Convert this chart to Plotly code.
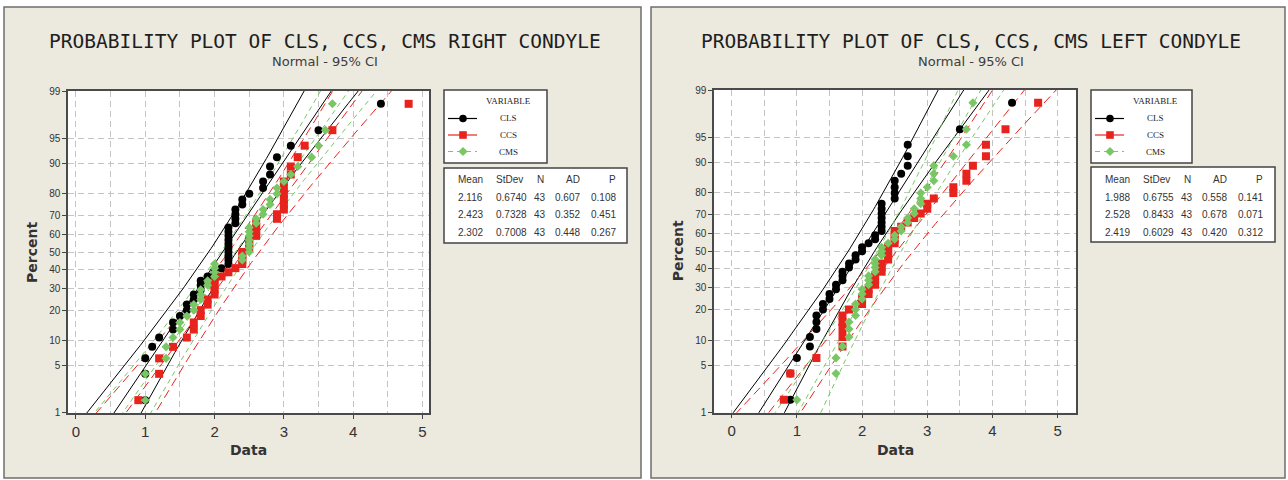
import plotly.graph_objects as go
from statistics import NormalDist

W, H = 1288, 480
STD = NormalDist()

VARIABLES = ["CLS", "CCS", "CMS"]

# ---- Right condyle measurements ----
right_cls = [1.0, 1.0, 1.0, 1.1, 1.2, 1.4, 1.4, 1.5, 1.6, 1.6, 1.7, 1.7, 1.8, 1.8, 1.8,
             1.9, 2.0, 2.1, 2.2, 2.2, 2.2, 2.2, 2.2, 2.2, 2.2, 2.2, 2.2, 2.2, 2.3, 2.3,
             2.3, 2.3, 2.4, 2.4, 2.5, 2.7, 2.7, 2.8, 2.8, 2.9, 3.1, 3.5, 4.4]
right_ccs = [0.9, 1.2, 1.2, 1.4, 1.6, 1.7, 1.7, 1.8, 1.8, 1.9, 1.9, 2.0, 2.0, 2.0, 2.0,
             2.1, 2.2, 2.3, 2.4, 2.4, 2.4, 2.4, 2.5, 2.5, 2.5, 2.6, 2.6, 2.6, 2.6, 2.9,
             2.9, 3.0, 3.0, 3.0, 3.0, 3.0, 3.0, 3.1, 3.1, 3.2, 3.3, 3.7, 4.8]
right_cms = [1.0, 1.0, 1.3, 1.3, 1.4, 1.5, 1.5, 1.6, 1.7, 1.7, 1.8, 1.8, 1.8, 1.9, 1.9,
             2.0, 2.0, 2.0, 2.0, 2.4, 2.4, 2.5, 2.5, 2.5, 2.5, 2.5, 2.5, 2.5, 2.6, 2.6,
             2.7, 2.7, 2.8, 2.8, 2.9, 2.9, 3.0, 3.1, 3.2, 3.4, 3.5, 3.6, 3.7]
right_mean = [2.116, 2.423, 2.302]
right_stdev = [0.6740, 0.7328, 0.7008]
right_n = [43, 43, 43]
right_ad = [0.607, 0.352, 0.448]
right_p = [0.108, 0.451, 0.267]

# ---- Left condyle measurements ----
left_cls = [0.9, 0.9, 1.0, 1.2, 1.2, 1.3, 1.3, 1.3, 1.4, 1.4, 1.5, 1.5, 1.6, 1.6, 1.7,
            1.7, 1.7, 1.8, 1.8, 1.9, 1.9, 2.0, 2.0, 2.1, 2.2, 2.2, 2.3, 2.3, 2.3, 2.3,
            2.3, 2.3, 2.3, 2.5, 2.5, 2.5, 2.5, 2.6, 2.7, 2.7, 2.7, 3.5, 4.3]
left_ccs = [0.8, 0.9, 1.3, 1.7, 1.7, 1.7, 1.7, 1.7, 1.8, 2.0, 2.0, 2.1, 2.1, 2.2, 2.2,
            2.2, 2.3, 2.3, 2.3, 2.4, 2.4, 2.4, 2.4, 2.5, 2.5, 2.5, 2.5, 2.6, 2.7, 2.8,
            2.9, 3.0, 3.0, 3.1, 3.4, 3.4, 3.6, 3.6, 3.7, 3.9, 3.9, 4.2, 4.7]
left_cms = [1.0, 1.6, 1.6, 1.7, 1.8, 1.8, 1.8, 1.9, 1.9, 1.9, 2.0, 2.0, 2.0, 2.1, 2.1,
            2.1, 2.2, 2.2, 2.2, 2.2, 2.3, 2.3, 2.3, 2.4, 2.5, 2.5, 2.6, 2.6, 2.7, 2.7,
            2.8, 2.8, 2.9, 2.9, 2.9, 3.0, 3.1, 3.1, 3.1, 3.4, 3.6, 3.6, 3.7]
left_mean = [1.988, 2.528, 2.419]
left_stdev = [0.6755, 0.8433, 0.6029]
left_n = [43, 43, 43]
left_ad = [0.558, 0.678, 0.420]
left_p = [0.141, 0.071, 0.312]

percent_ticks = [1, 5, 10, 20, 30, 40, 50, 60, 70, 80, 90, 95, 99]
data_ticks = [0, 1, 2, 3, 4, 5]
stat_headers = ["Mean", "StDev", "N", "AD", "P"]

STYLE = {
    "CLS": dict(color="#000000", symbol="circle", size=8, dash="solid", legend_dash="solid"),
    "CCS": dict(color="#E8231E", symbol="square", size=8, dash="9px,5px", legend_dash="solid"),
    "CMS": dict(color="#79C664", symbol="diamond", size=7, dash="5px,4px", legend_dash="5px,4px"),
}

PANEL_BG = "#ECE9DF"
GRID = "#C4C4C4"
TEXT = "#333333"


def fx(px):
    return px / W


def fy(py):
    return 1 - py / H


panels = [
    dict(title="PROBABILITY PLOT OF CLS, CCS, CMS RIGHT CONDYLE",
         series=[right_cls, right_ccs, right_cms],
         mean=right_mean, stdev=right_stdev, n=right_n, ad=right_ad, p=right_p,
         frame=(4, 7, 641, 478), plot=(68, 91, 429, 413), xrange=(-0.115, 5.094),
         title_x=324.5, ylabel_x=32,
         legend_box=(444, 90, 547, 163), stats_box=(444, 168, 627, 243),
         xa="x", ya="y", axkey=""),
    dict(title="PROBABILITY PLOT OF CLS, CCS, CMS LEFT CONDYLE",
         series=[left_cls, left_ccs, left_cms],
         mean=left_mean, stdev=left_stdev, n=left_n, ad=left_ad, p=left_p,
         frame=(651, 7, 1285, 478), plot=(714, 90, 1076, 412.7), xrange=(-0.271, 5.281),
         title_x=971, ylabel_x=678,
         legend_box=(1091, 90, 1192, 163), stats_box=(1091, 167, 1275, 242),
         xa="x2", ya="y2", axkey="2"),
]

fig = go.Figure()
shapes = []
annotations = []

z_lo = STD.inv_cdf(0.01)
z_hi = STD.inv_cdf(0.99)
z_grid = [-2.8 + 0.05 * k for k in range(113)]

for pn in panels:
    x0, y0, x1, y1 = pn["frame"]
    shapes.append(dict(type="rect", xref="paper", yref="paper", layer="below",
                       x0=fx(x0), x1=fx(x1), y0=fy(y1), y1=fy(y0),
                       fillcolor=PANEL_BG, line=dict(color="#6E6E6E", width=1.5)))
    px0, py0, px1, py1 = pn["plot"]
    shapes.append(dict(type="rect", xref="paper", yref="paper", layer="below",
                       x0=fx(px0), x1=fx(px1), y0=fy(py1), y1=fy(py0),
                       fillcolor="white", line=dict(width=0)))

    # fitted lines with 95% confidence bands
    for name, mu, sd, n in zip(VARIABLES, pn["mean"], pn["stdev"], pn["n"]):
        st = STYLE[name]
        fit = [mu + z * sd for z in z_grid]
        half = [1.96 * sd * (1.0 / n + z * z / (2.0 * n)) ** 0.5 for z in z_grid]
        for xs in (fit, [f - h for f, h in zip(fit, half)], [f + h for f, h in zip(fit, half)]):
            fig.add_trace(go.Scatter(
                x=xs, y=z_grid, mode="lines", xaxis=pn["xa"], yaxis=pn["ya"],
                line=dict(color=st["color"], width=1, dash=st["dash"]),
                hoverinfo="skip", showlegend=False))

    # data points at median-rank plotting positions
    for name, values in zip(VARIABLES, pn["series"]):
        st = STYLE[name]
        vals = sorted(values)
        m = len(vals)
        zs = [STD.inv_cdf((i - 0.3) / (m + 0.4)) for i in range(1, m + 1)]
        fig.add_trace(go.Scatter(
            x=vals, y=zs, mode="markers", name=name, xaxis=pn["xa"], yaxis=pn["ya"],
            marker=dict(color=st["color"], symbol=st["symbol"], size=st["size"],
                        line=dict(width=0)),
            showlegend=False))

    # axes
    xdom = [fx(px0), fx(px1)]
    ydom = [fy(py1), fy(py0)]
    fig.update_layout(**{
        "xaxis" + pn["axkey"]: dict(
            domain=xdom, range=list(pn["xrange"]), anchor=pn["ya"], automargin=False,
            tickmode="array", tickvals=data_ticks, ticktext=[str(t) for t in data_ticks],
            ticks="outside", ticklen=4, tickcolor="#444",
            tickfont=dict(family="Liberation Sans, Arial, sans-serif", size=15, color=TEXT),
            showgrid=True, gridcolor=GRID, griddash="6px,4px", gridwidth=1,
            minor=dict(tickmode="linear", tick0=0, dtick=0.5, showgrid=True,
                       gridcolor=GRID, griddash="6px,4px", ticks=""),
            showline=True, mirror=True, linecolor="#4A4A4A", linewidth=1.5,
            zeroline=False, fixedrange=True),
        "yaxis" + pn["axkey"]: dict(
            domain=ydom, range=[z_lo - 1e-4, z_hi + 1e-4], anchor=pn["xa"], automargin=False,
            tickmode="array", tickvals=[STD.inv_cdf(t / 100) for t in percent_ticks],
            ticktext=[str(t) for t in percent_ticks],
            ticks="outside", ticklen=4, tickcolor="#444",
            tickfont=dict(family="Liberation Sans, Arial, sans-serif", size=10, color=TEXT),
            showgrid=True, gridcolor=GRID, griddash="6px,4px", gridwidth=1,
            showline=True, mirror=True, linecolor="#4A4A4A", linewidth=1.5,
            zeroline=False, fixedrange=True),
    })

    # titles
    annotations.append(dict(text=pn["title"], x=fx(pn["title_x"]), y=fy(41), xref="paper",
                            yref="paper", showarrow=False, xanchor="center", yanchor="middle",
                            font=dict(family="DejaVu Sans Mono, monospace", size=19.5,
                                      color="#1E1E1E")))
    annotations.append(dict(text="Normal - 95% CI", x=fx(pn["title_x"]), y=fy(61), xref="paper",
                            yref="paper", showarrow=False, xanchor="center", yanchor="middle",
                            font=dict(family="DejaVu Sans, sans-serif", size=13, color="#3C3C3C")))
    annotations.append(dict(text="<b>Data</b>", x=fx((px0 + px1) / 2), y=fy(450), xref="paper",
                            yref="paper", showarrow=False, xanchor="center", yanchor="middle",
                            font=dict(family="DejaVu Sans, sans-serif", size=14, color=TEXT)))
    annotations.append(dict(text="<b>Percent</b>", x=fx(pn["ylabel_x"]), y=fy((py0 + py1) / 2),
                            xref="paper", yref="paper", showarrow=False, textangle=-90,
                            xanchor="center", yanchor="middle",
                            font=dict(family="DejaVu Sans, sans-serif", size=14, color=TEXT)))

    # legend box
    lx0, ly0, lx1, ly1 = pn["legend_box"]
    shapes.append(dict(type="rect", xref="paper", yref="paper", layer="below",
                       x0=fx(lx0), x1=fx(lx1), y0=fy(ly1), y1=fy(ly0),
                       fillcolor="white", line=dict(color="#444444", width=1.5)))
    annotations.append(dict(text="VARIABLE", x=fx(lx0 + 64), y=fy(101), xref="paper",
                            yref="paper", showarrow=False, xanchor="center", yanchor="middle",
                            font=dict(family="Liberation Serif, Times New Roman, serif",
                                      size=9, color="#222")))
    for k, name in enumerate(VARIABLES):
        st = STYLE[name]
        ey = 118.5 + 16.5 * k
        shapes.append(dict(type="line", xref="paper", yref="paper",
                           x0=fx(lx0 + 4), x1=fx(lx0 + 33), y0=fy(ey), y1=fy(ey),
                           line=dict(color=st["color"], width=1.2, dash=st["legend_dash"])))
        cx = lx0 + 19
        if st["symbol"] == "circle":
            shapes.append(dict(type="circle", xref="paper", yref="paper",
                               x0=fx(cx - 3.8), x1=fx(cx + 3.8), y0=fy(ey + 3.8), y1=fy(ey - 3.8),
                               fillcolor=st["color"], line=dict(width=0)))
        elif st["symbol"] == "square":
            shapes.append(dict(type="rect", xref="paper", yref="paper",
                               x0=fx(cx - 3.8), x1=fx(cx + 3.8), y0=fy(ey + 3.8), y1=fy(ey - 3.8),
                               fillcolor=st["color"], line=dict(width=0)))
        else:
            d = 4.6
            path = "M {:.5f},{:.5f} L {:.5f},{:.5f} L {:.5f},{:.5f} L {:.5f},{:.5f} Z".format(
                fx(cx - d), fy(ey), fx(cx), fy(ey - d), fx(cx + d), fy(ey), fx(cx), fy(ey + d))
            shapes.append(dict(type="path", xref="paper", yref="paper", path=path,
                               fillcolor=st["color"], line=dict(width=0)))
        annotations.append(dict(text=name, x=fx(lx0 + 64), y=fy(ey), xref="paper",
                                yref="paper", showarrow=False, xanchor="center",
                                yanchor="middle",
                                font=dict(family="Liberation Serif, Times New Roman, serif",
                                          size=9, color="#222")))

    # statistics table
    sx0, sy0, sx1, sy1 = pn["stats_box"]
    shapes.append(dict(type="rect", xref="paper", yref="paper", layer="below",
                       x0=fx(sx0), x1=fx(sx1), y0=fy(sy1), y1=fy(sy0),
                       fillcolor="white", line=dict(color="#444444", width=1.5)))
    col_pos = [(12, "left"), (49.5, "left"), (96, "center"), (137.5, "right"), (173.5, "right")]
    rows = [stat_headers]
    for k in range(3):
        rows.append(["{:.3f}".format(pn["mean"][k]), "{:.4f}".format(pn["stdev"][k]),
                     str(pn["n"][k]), "{:.3f}".format(pn["ad"][k]), "{:.3f}".format(pn["p"][k])])
    row_y = [179.5, 197, 214.5, 232]
    for r, row in enumerate(rows):
        for (off, anchor), txt in zip(col_pos, row):
            annotations.append(dict(text=txt, x=fx(sx0 + off), y=fy(row_y[r]), xref="paper",
                                    yref="paper", showarrow=False, xanchor=anchor,
                                    yanchor="middle",
                                    font=dict(family="Liberation Sans, Arial, sans-serif",
                                              size=10, color="#333")))

fig.update_layout(
    template="none",
    width=W, height=H, margin=dict(l=0, r=0, t=0, b=0, pad=0),
    paper_bgcolor="white", plot_bgcolor="white",
    showlegend=False, shapes=shapes, annotations=annotations,
)

fig.write_html("out.html")
